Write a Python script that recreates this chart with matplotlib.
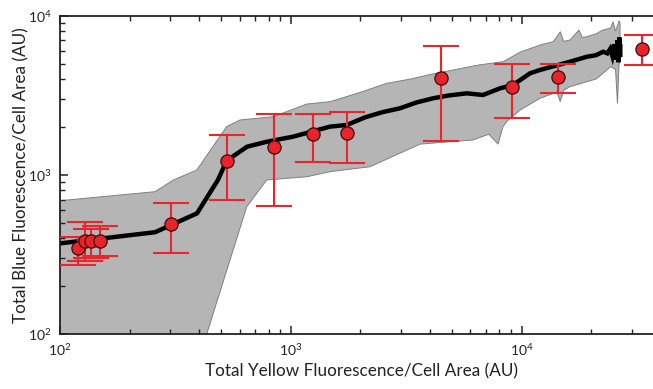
import numpy as np
import matplotlib
matplotlib.use("Agg")
import matplotlib.pyplot as plt
from matplotlib.ticker import FuncFormatter, LogLocator, NullFormatter

plt.rcParams['font.family'] = ['Lato', 'DejaVu Sans']

# ---- data ----
# red data points with asymmetric error bars (upper / lower values)
pt_x = [120, 128, 136, 149, 302, 527, 845, 1251, 1745, 4458, 9080, 14410, 33280]
pt_y = [345, 385, 385, 385, 493, 1227, 1503, 1798, 1824, 4044, 3580, 4100, 6175]
pt_hi = [409, 503, 455, 479, 668, 1772, 2401, 2401, 2494, 6484, 4952, 4952, 7565]
pt_lo = [271, 289, 300, 310, 323, 692, 634, 1199, 1192, 1632, 2266, 3254, 4900]

# mean curve
line_x = [100, 258, 392, 483, 527, 646, 788, 1021, 1479, 1745, 2100, 2500, 2971,
          3500, 4128, 4800, 5777, 6796, 8050, 9170, 10860, 12000, 14000, 16190,
          19140, 21000, 22550, 23500, 24200, 24700, 25200, 25600, 26000, 26300,
          26500, 26680, 26750]
line_y = [371, 436, 573, 929, 1227, 1503, 1616, 1737, 2010, 2057, 2300, 2480, 2620,
          2850, 3027, 3150, 3253, 3175, 3496, 3670, 4346, 4560, 4850, 5140,
          5520, 5650, 5940, 5800, 6200, 5600, 6600, 5300, 7000, 5100, 7300, 5500, 6400]

# shaded band: upper edge
up_x = [100, 258, 310, 391, 527, 602, 839, 1172, 1479, 2000, 2603, 3300, 4100,
        5058, 6500, 8318, 9840, 12000, 13700, 14700, 15200, 16190, 17700, 18300,
        19140, 21000, 22500, 24300, 24880, 25500, 26000, 26400, 26680]
up_y = [688, 784, 929, 1072, 2010, 2212, 2319, 2786, 2883, 3300, 3761, 4000, 4300,
        4561, 4900, 5143, 5900, 6545, 6870, 7930, 6900, 7030, 8130, 7300,
        7380, 7700, 8130, 8370, 9170, 8000, 8620, 9300, 8960]
# shaded band: lower edge
lo_x = [100, 432, 644, 786, 1172, 1479, 2203, 3625, 4500, 6150, 7200, 7900, 8300,
        8700, 9840, 12000, 14200, 14700, 15200, 16190, 19140, 21000, 22500,
        24300, 25500, 26000, 26400, 26680]
lo_y = [8, 100, 631, 929, 973, 1047, 1125, 1560, 1600, 1656, 1800, 1560, 2010,
        2200, 2553, 3027, 3316, 2883, 3400, 3580, 3848, 4000, 4345,
        4783, 4600, 2813, 4900, 5270]

x_label = "Total Yellow Fluorescence/Cell Area (AU)"
y_label = "Total Blue Fluorescence/Cell Area (AU)"

# ---- figure ----
fig = plt.figure(figsize=(6.53, 3.89), dpi=100)
ax = fig.add_axes([0.092, 0.1414, 0.908, 0.8182])

poly_x = list(up_x) + list(lo_x[::-1])
poly_y = list(up_y) + list(lo_y[::-1])
ax.fill(poly_x, poly_y, facecolor='#b5b5b5', edgecolor='#808080', linewidth=0.7, zorder=1)

ax.plot(line_x, line_y, color='black', linewidth=3.2, solid_joinstyle='miter', zorder=2)

yerr = [np.array(pt_y) - np.array(pt_lo), np.array(pt_hi) - np.array(pt_y)]
ax.errorbar(pt_x, pt_y, yerr=yerr, fmt='none', ecolor='#e8262b', elinewidth=1.5,
            capsize=13, capthick=1.5, zorder=3)
ax.plot(pt_x, pt_y, 'o', markersize=9.5, markerfacecolor='#e8232a',
        markeredgecolor='#3a0a0a', markeredgewidth=0.9, linestyle='none', zorder=4)

ax.set_xscale('log')
ax.set_yscale('log')
ax.set_xlim(100, 37060)
ax.set_ylim(100, 10000)

fmt = FuncFormatter(lambda v, p: r'$\mathregular{10^{%d}}$' % int(round(np.log10(v))))
ax.xaxis.set_major_formatter(fmt)
ax.yaxis.set_major_formatter(fmt)
ax.xaxis.set_minor_formatter(NullFormatter())
ax.yaxis.set_minor_formatter(NullFormatter())
ax.xaxis.set_minor_locator(LogLocator(base=10, subs=np.arange(2, 10)))
ax.yaxis.set_minor_locator(LogLocator(base=10, subs=np.arange(2, 10)))

ax.tick_params(which='both', direction='in', top=True, right=False, color='#222222')
ax.tick_params(which='major', length=6, width=1.1, labelsize=10, pad=6, colors='#222222')
ax.tick_params(which='minor', length=3.5, width=1.0)

for s in ['left', 'bottom', 'top']:
    ax.spines[s].set_linewidth(1.3)
    ax.spines[s].set_color('#222222')
ax.spines['right'].set_visible(False)

ax.set_xlabel(x_label, fontsize=12.3, color='#222222')
ax.set_ylabel(y_label, fontsize=12.3, color='#222222')
ax.xaxis.set_label_coords(0.5 * (653 - 60) / 593 * 0 + (361 - 60) / 593, -0.092)
ax.yaxis.set_label_coords(-0.052, 0.5)

fig.savefig('out.png', dpi=100)
